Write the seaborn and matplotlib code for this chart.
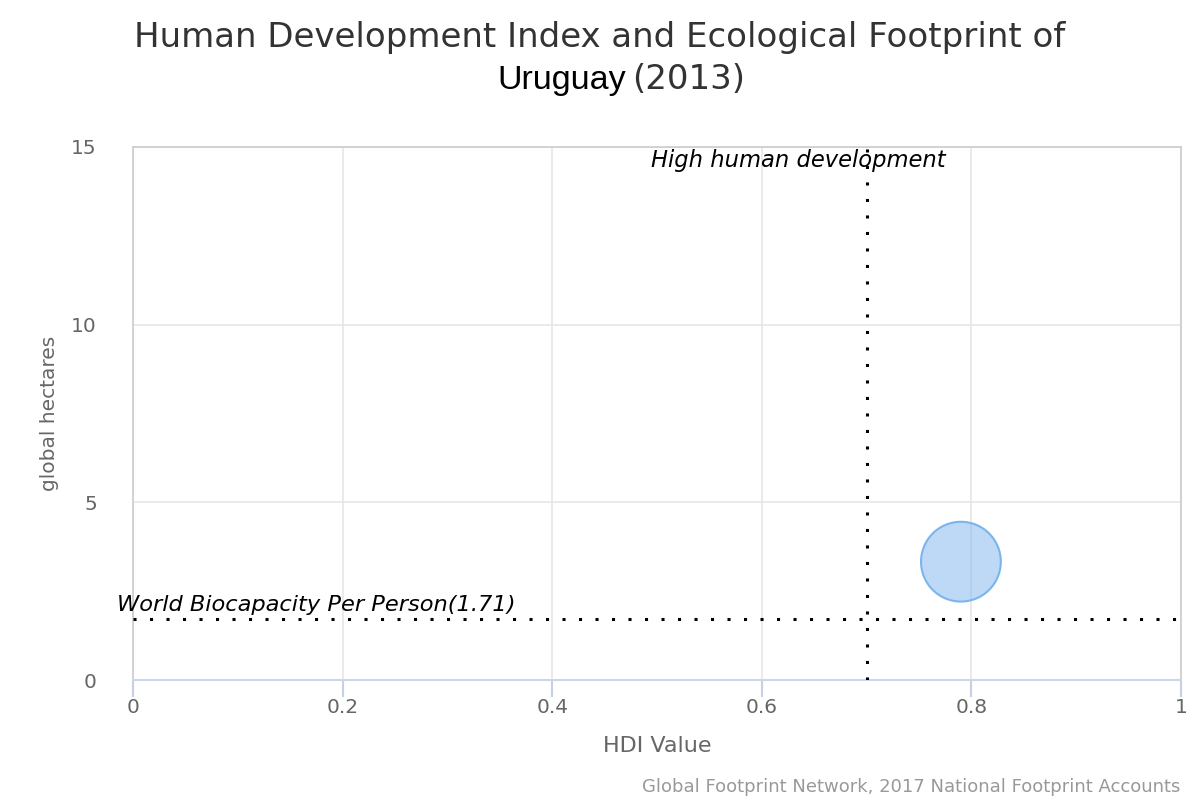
import pandas as pd
import seaborn as sns
from matplotlib import pyplot as plt

sns.set_theme(style="whitegrid")
plt.rcParams["font.family"] = ["DejaVu Sans"]

# data
country = ["Uruguay"]
year = 2013
hdi = [0.79]
footprint = [3.33]
world_biocapacity = 1.71
high_hdi_threshold = 0.7

x_ticks = [0, 0.2, 0.4, 0.6, 0.8, 1]
x_tick_labels = ["0", "0.2", "0.4", "0.6", "0.8", "1"]
y_ticks = [0, 5, 10, 15]

df = pd.DataFrame({"country": country, "hdi": hdi, "footprint": footprint})

fig = plt.figure(figsize=(12, 8), dpi=100)
ax = fig.add_axes([133 / 1200, 120 / 800, 1048 / 1200, 533 / 800])

sns.scatterplot(
    data=df,
    x="hdi",
    y="footprint",
    s=3300,
    color="#7cb5ec",
    alpha=0.5,
    edgecolor="none",
    ax=ax,
    legend=False,
    zorder=3,
)
# outline drawn on its own so it stays opaque
sns.scatterplot(
    data=df,
    x="hdi",
    y="footprint",
    s=3300,
    facecolor="none",
    edgecolor="#7cb5ec",
    linewidth=1.5,
    ax=ax,
    legend=False,
    zorder=4,
)

dot_style = dict(color="black", linewidth=2.2, linestyle=(0, (1, 4.4)), zorder=5)
ax.axvline(high_hdi_threshold, **dot_style)
ax.axhline(world_biocapacity, **dot_style)

ax.annotate(
    "High human development",
    xy=(high_hdi_threshold, 15),
    xytext=(57, -14.5),
    textcoords="offset points",
    ha="right",
    va="baseline",
    fontsize=16.3,
    style="italic",
    color="black",
    zorder=6,
)
ax.annotate(
    f"World Biocapacity Per Person({world_biocapacity})",
    xy=(0, world_biocapacity),
    xytext=(-11.5, 5.8),
    textcoords="offset points",
    ha="left",
    va="baseline",
    fontsize=16.2,
    style="italic",
    color="black",
    annotation_clip=False,
    zorder=6,
)

ax.set_xlim(0, 1)
ax.set_ylim(0, 15)
ax.set_xticks(x_ticks)
ax.set_xticklabels(x_tick_labels)
ax.set_yticks(y_ticks)

ax.grid(True, color="#e6e6e6", linewidth=1.2)
for side in ["top", "right", "left"]:
    ax.spines[side].set_color("#cccccc")
    ax.spines[side].set_linewidth(1.2)
ax.spines["bottom"].set_color("#ccd6eb")
ax.spines["bottom"].set_linewidth(1.5)

ax.tick_params(axis="x", bottom=True, length=12, width=1.5, color="#c4d0e6",
               labelsize=14.5, labelcolor="#666666", pad=1)
ax.tick_params(axis="y", left=False, labelsize=14.5, labelcolor="#666666", pad=20)

ax.set_xlabel("HDI Value", fontsize=16, color="#666666", labelpad=14)
ax.set_ylabel("global hectares", fontsize=14.5, color="#666666", labelpad=9)

fig.text(0.5, 1 - 47 / 800, "Human Development Index and Ecological Footprint of",
         ha="center", va="baseline", fontsize=24.5, color="#333333")
fig.text(626 / 1200, 1 - 89 / 800, country[0], ha="right", va="baseline",
         fontsize=24.5, color="black", family="Liberation Sans")
fig.text(632 / 1200, 1 - 89 / 800, f"({year})", ha="left", va="baseline",
         fontsize=24.5, color="#333333")

fig.text(1180 / 1200, 1 - 792 / 800,
         "Global Footprint Network, 2017 National Footprint Accounts",
         ha="right", va="baseline", fontsize=13, color="#999999")

fig.savefig("out.png", dpi=100)
